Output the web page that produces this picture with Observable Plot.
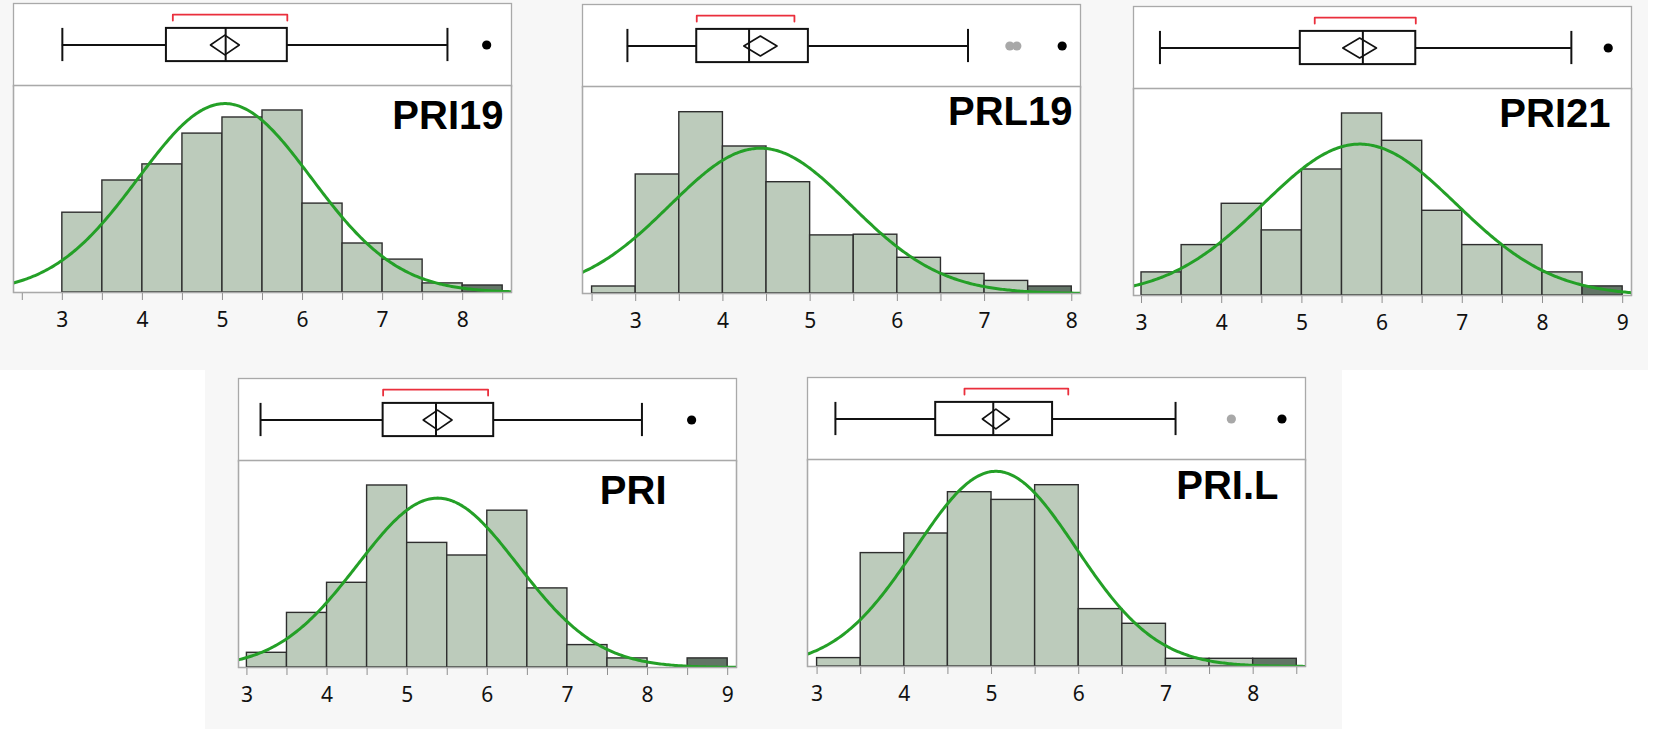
<!DOCTYPE html>
<html>
<head>
<meta charset="utf-8">
<script src="https://cdn.jsdelivr.net/npm/d3@7"></script>
<script src="https://cdn.jsdelivr.net/npm/@observablehq/plot@0.6"></script>
<style>
  html, body { margin: 0; padding: 0; background: #ffffff; width: 1654px; height: 729px; overflow: hidden; position: relative; }
  .band { position: absolute; background: #f7f7f7; }
  .panel { position: absolute; }
  .panel svg { display: block; overflow: visible; }
  .panel svg g[aria-label="x-axis tick label"], .panel svg g[aria-label="x-axis tick label"] text { font-size: 21px; font-family: 'Noto Sans', 'Open Sans', sans-serif; }
</style>
</head>
<body>
<div class="band" style="left:0;top:0;width:1648px;height:370px"></div>
<div class="band" style="left:205px;top:350px;width:1137px;height:379px"></div>
<div id="root"></div>
<script>
// ---------- data ----------
const variables = ["PRI19", "PRL19", "PRI21", "PRI", "PRI.L"];
const binStart = [3.0, 2.5, 3.0, 3.0, 3.0];
const binWidth = 0.5;
// histogram frequencies per 0.5-wide bin
const freqPRI19 = [11.4, 16.0, 18.3, 22.7, 25.0, 26.0, 12.7, 7.0, 4.7, 1.3, 1.0];
const freqPRL19 = [1.0, 17.0, 25.9, 21.0, 15.9, 8.3, 8.4, 5.1, 2.8, 1.8, 1.0];
const freqPRI21 = [3.3, 7.2, 13.1, 9.3, 18.0, 26.0, 22.1, 12.1, 7.2, 7.2, 3.3, 1.3];
const freqPRI   = [2.1, 7.8, 12.1, 26.0, 17.8, 16.0, 22.4, 11.3, 3.2, 1.3, 0.0, 1.3];
const freqPRIL  = [1.2, 16.2, 19.0, 24.9, 23.8, 25.9, 8.2, 6.1, 1.1, 1.1, 1.1];
// box plot summaries
const whiskerLow   = [3.00, 2.905, 3.23, 3.17, 3.21];
const quartile1    = [4.30, 3.70, 4.98, 4.70, 4.36];
const medians      = [5.04, 4.30, 5.76, 5.36, 5.02];
const quartile3    = [5.81, 4.98, 6.42, 6.08, 5.70];
const whiskerHigh  = [7.81, 6.81, 8.36, 7.93, 7.11];
const means        = [5.03, 4.43, 5.72, 5.38, 5.05];
const meanCI       = [0.18, 0.19, 0.21, 0.18, 0.155];
const stdDevs      = [1.08, 1.04, 1.20, 1.00, 0.92];
const shortestLow  = [4.38, 3.70, 5.16, 4.70, 4.69];
const shortestHigh = [5.81, 4.82, 6.42, 6.01, 5.88];
const outliersFar  = [[8.30], [7.89], [8.82], [8.55], [8.33]];
const outliersNear = [[], [7.29, 7.37], [], [], [7.75]];
// x axis ranges
const xDomains = [[2.39, 8.61], [2.39, 8.10], [2.90, 9.11], [2.895, 9.11], [2.89, 8.60]];

// ---------- layout ----------
const panelLeft = [13, 582, 1133, 238, 807];
const panelTop  = [3, 4, 6, 378, 377];
const panelW = 498;
const BOXH = 83, HISTH = 207, AXISH = 45;
const titleInset = [8, 8, 21, 70, 27];
const titleDrop  = [43, 38, 38, 43, 39];
const YMAX = 29.57;

const FRAME = "#a9a9a9", INK = "#111111", BAR = "#bccbbb", BAR_DARK = "#627466",
      GREEN = "#24a027", RED = "#ea2f3c";
const freqs = [freqPRI19, freqPRL19, freqPRI21, freqPRI, freqPRIL];

const root = document.getElementById("root");

variables.forEach((name, i) => {
  const xd = xDomains[i];
  const s = {
    wlo: whiskerLow[i], q1: quartile1[i], med: medians[i], q3: quartile3[i],
    whi: whiskerHigh[i], mean: means[i], ci: meanCI[i],
    slo: shortestLow[i], shi: shortestHigh[i]
  };
  const BT = 0.30, BB = 0.70, DH = 0.12, BRT = 0.135, BRB = 0.205;
  const diamond = [
    {x: s.mean - s.ci, y: 0.5}, {x: s.mean, y: 0.5 - DH},
    {x: s.mean + s.ci, y: 0.5}, {x: s.mean, y: 0.5 + DH},
    {x: s.mean - s.ci, y: 0.5}
  ];
  const bracket = [
    {x: s.slo, y: BRB}, {x: s.slo, y: BRT}, {x: s.shi, y: BRT}, {x: s.shi, y: BRB}
  ];
  const LW = 2;

  const box = Plot.plot({
    width: panelW, height: BOXH, margin: 0,
    style: {background: "transparent"},
    x: {domain: xd, axis: null},
    y: {domain: [0, 1], reverse: true, axis: null},
    marks: [
      Plot.frame({fill: "white", stroke: FRAME, strokeWidth: 1.3}),
      Plot.ruleY([s], {x1: "wlo", x2: "q1", y: 0.5, stroke: INK, strokeWidth: LW}),
      Plot.ruleY([s], {x1: "q3", x2: "whi", y: 0.5, stroke: INK, strokeWidth: LW}),
      Plot.ruleX([s], {x: "wlo", y1: BT, y2: BB, stroke: INK, strokeWidth: LW}),
      Plot.ruleX([s], {x: "whi", y1: BT, y2: BB, stroke: INK, strokeWidth: LW}),
      Plot.rect([s], {x1: "q1", x2: "q3", y1: BT, y2: BB, fill: "white", stroke: INK, strokeWidth: LW}),
      Plot.ruleX([s], {x: "med", y1: BT, y2: BB, stroke: INK, strokeWidth: LW}),
      Plot.line(diamond, {x: "x", y: "y", stroke: INK, strokeWidth: 1.6}),
      Plot.line(bracket, {x: "x", y: "y", stroke: RED, strokeWidth: 1.8}),
      Plot.dot(outliersNear[i], {x: d => d, y: 0.5, r: 4.6, fill: "#a8a8a8", stroke: null}),
      Plot.dot(outliersFar[i], {x: d => d, y: 0.5, r: 4.6, fill: "#000", stroke: null})
    ]
  });

  const bins = freqs[i].map((f, k) => ({
    x1: binStart[i] + k * binWidth, x2: binStart[i] + (k + 1) * binWidth,
    freq: f, dark: k === freqs[i].length - 1
  }));
  const total = d3.sum(freqs[i]);
  const sd = stdDevs[i];
  const step = (xd[1] - xd[0]) / 300;
  const curve = d3.range(0, 301).map(k => {
    const x = xd[0] + k * step;
    const z = (x - s.mean) / sd;
    return {x, y: total * binWidth * Math.exp(-0.5 * z * z) / (sd * Math.sqrt(2 * Math.PI))};
  });
  const ticks = d3.range(Math.ceil(xd[0] * 2) / 2, xd[1] + 1e-9, 0.5);

  const hist = Plot.plot({
    width: panelW, height: HISTH + AXISH,
    marginTop: 0, marginBottom: AXISH, marginLeft: 0, marginRight: 0,
    style: {background: "transparent", fontFamily: "'Noto Sans', 'Open Sans', sans-serif", fontSize: "21px"},
    x: {domain: xd, axis: null},
    y: {domain: [0, YMAX], axis: null},
    marks: [
      Plot.frame({fill: "white", stroke: FRAME, strokeWidth: 1.3}),
      Plot.rectY(bins.filter(d => !d.dark), {x1: "x1", x2: "x2", y: "freq", fill: BAR, stroke: "#2e2e2e", strokeWidth: 1.4}),
      Plot.rectY(bins.filter(d => d.dark), {x1: "x1", x2: "x2", y: "freq", fill: BAR_DARK, stroke: "#2e2e2e", strokeWidth: 1.4}),
      Plot.line(curve, {x: "x", y: "y", stroke: GREEN, strokeWidth: 3, clip: true}),
      Plot.axisX({
        ticks, tickSize: 8, tickPadding: 12, fontSize: 21,
        tickFormat: d => Math.abs(d - Math.round(d)) < 1e-6 ? String(Math.round(d)) : "",
        stroke: "#8f8f8f", fill: "#111111"
      }),
      Plot.frame({stroke: FRAME, strokeWidth: 1.3}),
      Plot.text([name], {
        text: d => d, frameAnchor: "top-right", dx: -titleInset[i], dy: titleDrop[i],
        textAnchor: "end", lineAnchor: "bottom", fontSize: 40, fontWeight: "bold",
        fontFamily: "'Liberation Sans', Arial, sans-serif", fill: "#000"
      })
    ]
  });

  const div = document.createElement("div");
  div.className = "panel";
  div.style.left = panelLeft[i] + "px";
  div.style.top = panelTop[i] + "px";
  div.style.width = panelW + "px";
  div.appendChild(box);
  hist.style.marginTop = "-1px";
  div.appendChild(hist);
  root.appendChild(div);
});
</script>
</body>
</html>
